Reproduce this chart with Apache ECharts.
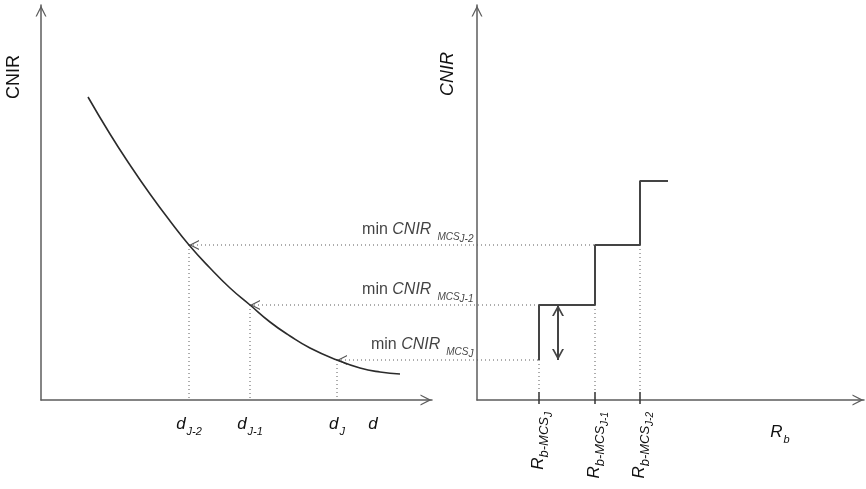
<!DOCTYPE html>
<html><head><meta charset="utf-8">
<script src="https://cdn.jsdelivr.net/npm/echarts@6/dist/echarts.min.js"></script>
<style>html,body{margin:0;padding:0;background:#fff}#c{width:866px;height:489px}</style>
</head><body><div id="c"></div>
<script>
// ---- data (arbitrary units; index 0 = J, 1 = J-1, 2 = J-2) ----
const curveD    = [47, 69, 89, 109, 129, 148, 169, 189, 209, 229, 249, 269, 296, 319, 339, 359];
const curveCNIR = [303, 266, 235, 206, 179, 155, 132, 112, 95, 78, 64, 52, 40, 32, 28, 26];
const subs      = ['J', 'J-1', 'J-2'];
const dTicks    = [296, 209, 148];     // d_J, d_J-1, d_J-2
const cnirMin   = [40, 95, 155];       // min CNIR for MCS_J, MCS_J-1, MCS_J-2
const rbTicks   = [62, 118, 163];      // R_b-MCS_J, ...
const stepRb    = [62, 62, 118, 118, 163, 163, 191];
const stepCNIR  = [40, 95, 95, 155, 155, 219, 219];
const rangeRb   = 81;
const dNameAt   = 332;
const rbNameAt  = 303;

// ---- layout ----
const L = {left: 41, top: 5, width: 391, height: 395};
const R = {left: 477, top: 5, width: 387, height: 395};
const O = {left: 41, top: 5, width: 825, height: 395};   // overlay spanning both panels
const X_MAX_L = L.width, X_MAX_R = R.width, X_MAX_O = O.width, Y_MAX = L.height;
const leftToO = x => (L.left - O.left) * (X_MAX_O / O.width) + x * (L.width / X_MAX_L) * (X_MAX_O / O.width);
const rightToO = x => (R.left - O.left) * (X_MAX_O / O.width) + x * (R.width / X_MAX_R) * (X_MAX_O / O.width);

const FONT = '"Liberation Sans", Arial, sans-serif';
const TXT = '#111';
const AX = '#5c5c5c';
const GUIDE = {color: '#5a5a5a', width: 1, type: [1, 3]};
const chevron = 'path://M5,0L10,10L8.8,10L5,2.6L1.2,10L0,10Z';
const chevronBold = 'path://M5,0L10,10L8.4,10L5,3.2L1.6,10L0,10Z';

function axisLineArrow() {
  return {show: true, lineStyle: {color: AX, width: 1.5},
    symbol: ['none', chevron], symbolSize: [11, 12], symbolOffset: [0, -6]};
}

const series = [];
// curve
series.push({type: 'line', xAxisIndex: 0, yAxisIndex: 0, smooth: true, showSymbol: false,
  data: curveD.map((d, i) => [d, curveCNIR[i]]),
  lineStyle: {color: '#2b2b2b', width: 1.6}, z: 4});

for (let k = 0; k < 3; k++) {
  const end = rbTicks[Math.max(k - 1, 0)];
  // horizontal guide with arrow at the curve (overlay grid spanning both panels)
  series.push({type: 'line', xAxisIndex: 3, yAxisIndex: 2,
    data: [
      {value: [leftToO(dTicks[k]), cnirMin[k]], symbol: chevron, symbolSize: [10, 10], symbolRotate: 90, symbolOffset: [5, 0]},
      {value: [rightToO(end), cnirMin[k]], symbol: 'none'}
    ],
    lineStyle: GUIDE, itemStyle: {color: '#555', borderWidth: 0}, z: 2});
  // vertical guide, left panel
  series.push({type: 'line', xAxisIndex: 0, yAxisIndex: 0, showSymbol: false,
    data: [[dTicks[k], cnirMin[k]], [dTicks[k], 0]], lineStyle: GUIDE, z: 2});
  // vertical guide, right panel
  series.push({type: 'line', xAxisIndex: 1, yAxisIndex: 1, showSymbol: false,
    data: [[rbTicks[k], cnirMin[k]], [rbTicks[k], 0]], lineStyle: GUIDE, z: 2});
}
// step function
series.push({type: 'line', xAxisIndex: 1, yAxisIndex: 1, showSymbol: false,
  data: stepRb.map((r, i) => [r, stepCNIR[i]]),
  lineStyle: {color: '#444', width: 2}, z: 5});
// range double arrow
series.push({type: 'line', xAxisIndex: 1, yAxisIndex: 1,
  data: [
    {value: [rangeRb, cnirMin[1]], symbol: chevronBold, symbolSize: [12, 11], symbolOffset: [0, 5.5]},
    {value: [rangeRb, cnirMin[0]], symbol: chevronBold, symbolSize: [12, 11], symbolRotate: 180, symbolOffset: [0, -5.5]}
  ],
  lineStyle: {color: '#444', width: 2}, itemStyle: {color: '#444', borderWidth: 0}, z: 5});
// min CNIR labels
series.push({type: 'scatter', xAxisIndex: 1, yAxisIndex: 1, clip: false, symbolSize: 1,
  itemStyle: {color: 'rgba(0,0,0,0)'},
  data: cnirMin.map((c, k) => ({value: [0, c]})),
  label: {show: true, position: 'left', distance: 3, offset: [0, -14], color: TXT,
    formatter: p => '{n|min }{i|CNIR}{s|MCS}{ss|' + subs[p.dataIndex] + '}',
    rich: {
      n: {fontFamily: FONT, fontSize: 16, color: TXT, lineHeight: 18, verticalAlign: 'top'},
      i: {fontFamily: FONT, fontSize: 16, fontStyle: 'italic', color: TXT, lineHeight: 18, verticalAlign: 'top'},
      s: {fontFamily: FONT, fontSize: 10, fontStyle: 'italic', color: TXT, lineHeight: 10, padding: [10, 0, 0, 6], verticalAlign: 'top'},
      ss: {fontFamily: FONT, fontSize: 10, fontStyle: 'italic', color: TXT, lineHeight: 10, padding: [12.5, 0, 0, 0], verticalAlign: 'top'}
    }},
  z: 6});

const dRich = {
  i: {fontFamily: FONT, fontSize: 17, fontStyle: 'italic', color: TXT, lineHeight: 20, verticalAlign: 'top'},
  s: {fontFamily: FONT, fontSize: 11, fontStyle: 'italic', color: TXT, lineHeight: 12, padding: [10, 0, 0, 1], verticalAlign: 'top'}
};
const rRich = {
  i: {fontFamily: FONT, fontSize: 17, fontStyle: 'italic', color: TXT, lineHeight: 18, verticalAlign: 'top'},
  s: {fontFamily: FONT, fontSize: 13, fontStyle: 'italic', color: TXT, lineHeight: 13, padding: [8, 0, 0, 0], verticalAlign: 'top'},
  ss: {fontFamily: FONT, fontSize: 10, fontStyle: 'italic', color: TXT, lineHeight: 10, padding: [14, 0, 0, 0], verticalAlign: 'top'}
};

const hiddenAxis = {axisLine: {show: false}, axisTick: {show: false}, axisLabel: {show: false}, splitLine: {show: false}};

const option = {
  animation: false,
  backgroundColor: '#fff',
  grid: [
    Object.assign({outerBoundsMode: 'none', containLabel: false}, L),
    Object.assign({outerBoundsMode: 'none', containLabel: false}, R),
    Object.assign({outerBoundsMode: 'none', containLabel: false}, O)
  ],
  xAxis: [
    {type: 'value', gridIndex: 0, min: 0, max: X_MAX_L, axisLine: axisLineArrow(),
      axisTick: {show: false}, splitLine: {show: false},
      axisLabel: {show: true, margin: 16, customValues: dTicks.concat([dNameAt]),
        formatter: v => { const k = dTicks.indexOf(v); return k < 0 ? '{i|d}' : '{i|d}{s|' + subs[k] + '}'; },
        rich: dRich}},
    {type: 'value', gridIndex: 1, min: 0, max: X_MAX_R, axisLine: axisLineArrow(),
      axisTick: {show: true, customValues: rbTicks, length: 4, lineStyle: {color: '#333', width: 1.5}},
      splitLine: {show: false},
      axisLabel: {show: true, rotate: 90, margin: 12, customValues: rbTicks,
        formatter: v => '{i|R}{s|b-MCS}{ss|' + subs[rbTicks.indexOf(v)] + '}', rich: rRich}},
    {type: 'value', gridIndex: 1, position: 'bottom', offset: 0, min: 0, max: X_MAX_R,
      axisLine: {show: false},
      axisTick: {show: true, inside: true, customValues: rbTicks, length: 8, lineStyle: {color: '#333', width: 1.5}},
      splitLine: {show: false},
      axisLabel: {show: true, margin: 24, customValues: [rbNameAt],
        formatter: () => '{i|R}{s|b}', rich: dRich}},
    Object.assign({type: 'value', gridIndex: 2, min: 0, max: X_MAX_O}, hiddenAxis)
  ],
  yAxis: [
    {type: 'value', gridIndex: 0, min: 0, max: Y_MAX, axisLine: axisLineArrow(),
      axisTick: {show: false}, axisLabel: {show: false}, splitLine: {show: false}},
    {type: 'value', gridIndex: 1, min: 0, max: Y_MAX, axisLine: axisLineArrow(),
      axisTick: {show: false}, axisLabel: {show: false}, splitLine: {show: false}},
    Object.assign({type: 'value', gridIndex: 2, min: 0, max: Y_MAX}, hiddenAxis)
  ],
  graphic: [
    {type: 'text', x: 14, y: 77, rotation: Math.PI / 2,
      style: {text: 'CNIR', font: '18px ' + FONT, fill: TXT, textAlign: 'center', textVerticalAlign: 'middle', align: 'center', verticalAlign: 'middle'}},
    {type: 'text', x: 448, y: 74, rotation: Math.PI / 2,
      style: {text: 'CNIR', font: 'italic 18px ' + FONT, fill: TXT, textAlign: 'center', textVerticalAlign: 'middle', align: 'center', verticalAlign: 'middle'}}
  ],
  series: series
};
const chart = echarts.init(document.getElementById('c'), null, {renderer: 'canvas'});
chart.setOption(option);
</script></body></html>
